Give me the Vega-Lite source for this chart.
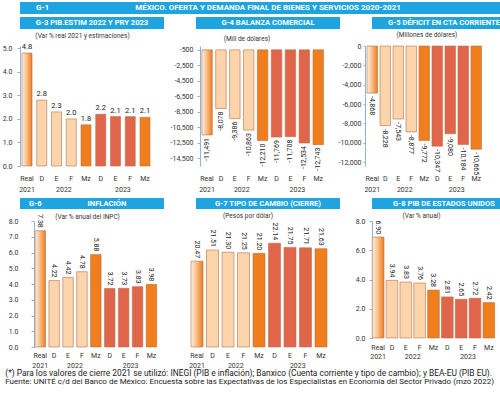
{
  "$schema": "https://vega.github.io/schema/vega-lite/v6.json",
  "background": "white",
  "padding": {"left": 2, "right": 2, "top": 2, "bottom": 2},
  "spacing": 3,
  "datasets": {
    "g3": [
      {"k": "Real", "v": 4.8, "t": "4.8"}, {"k": "D22", "v": 2.8, "t": "2.8"}, {"k": "E22", "v": 2.3, "t": "2.3"},
      {"k": "F22", "v": 2.0, "t": "2.0"}, {"k": "Mz22", "v": 1.75, "t": "1.8"}, {"k": "D23", "v": 2.2, "t": "2.2"},
      {"k": "E23", "v": 2.1, "t": "2.1"}, {"k": "F23", "v": 2.1, "t": "2.1"}, {"k": "Mz23", "v": 2.07, "t": "2.1"}
    ],
    "g4": [
      {"k": "Real", "v": -11491, "t": "-11,491"}, {"k": "D22", "v": -8078, "t": "-8,078"}, {"k": "E22", "v": -9386, "t": "-9,386"},
      {"k": "F22", "v": -10863, "t": "-10,863"}, {"k": "Mz22", "v": -12210, "t": "-12,210"}, {"k": "D23", "v": -11769, "t": "-11,769"},
      {"k": "E23", "v": -11708, "t": "-11,708"}, {"k": "F23", "v": -12534, "t": "-12,534"}, {"k": "Mz23", "v": -12743, "t": "-12,743"}
    ],
    "g5": [
      {"k": "Real", "v": -4868, "t": "-4,868"}, {"k": "D22", "v": -8228, "t": "-8,228"}, {"k": "E22", "v": -7543, "t": "-7,543"},
      {"k": "F22", "v": -8877, "t": "-8,877"}, {"k": "Mz22", "v": -9772, "t": "-9,772"}, {"k": "D23", "v": -10347, "t": "-10,347"},
      {"k": "E23", "v": -9080, "t": "-9,080"}, {"k": "F23", "v": -10184, "t": "-10,184"}, {"k": "Mz23", "v": -10665, "t": "-10,665"}
    ],
    "g6": [
      {"k": "Real", "v": 7.38, "t": "7.38"}, {"k": "D22", "v": 4.22, "t": "4.22"}, {"k": "E22", "v": 4.42, "t": "4.42"},
      {"k": "F22", "v": 4.78, "t": "4.78"}, {"k": "Mz22", "v": 5.88, "t": "5.88"}, {"k": "D23", "v": 3.72, "t": "3.72"},
      {"k": "E23", "v": 3.73, "t": "3.73"}, {"k": "F23", "v": 3.83, "t": "3.83"}, {"k": "Mz23", "v": 3.98, "t": "3.98"}
    ],
    "g7": [
      {"k": "Real", "v": 20.47, "t": "20.47"}, {"k": "D22", "v": 21.51, "t": "21.51"}, {"k": "E22", "v": 21.30, "t": "21.30"},
      {"k": "F22", "v": 21.25, "t": "21.25"}, {"k": "Mz22", "v": 21.20, "t": "21.20"}, {"k": "D23", "v": 22.14, "t": "22.14"},
      {"k": "E23", "v": 21.75, "t": "21.75"}, {"k": "F23", "v": 21.71, "t": "21.71"}, {"k": "Mz23", "v": 21.63, "t": "21.63"}
    ],
    "g8": [
      {"k": "Real", "v": 6.90, "t": "6.90"}, {"k": "D22", "v": 3.94, "t": "3.94"}, {"k": "E22", "v": 3.83, "t": "3.83"},
      {"k": "F22", "v": 3.76, "t": "3.76"}, {"k": "Mz22", "v": 3.28, "t": "3.28"}, {"k": "D23", "v": 2.81, "t": "2.81"},
      {"k": "E23", "v": 2.65, "t": "2.65"}, {"k": "F23", "v": 2.72, "t": "2.72"}, {"k": "Mz23", "v": 2.42, "t": "2.42"}
    ]
  },
  "title": {
    "text": "(*) Para los valores de cierre 2021 se utilizó: INEGI (PIB e inflación); Banxico (Cuenta corriente y tipo de cambio); y BEA-EU (PIB EU).",
    "subtitle": "Fuente: UNITÉ c/d del Banco de México: Encuesta sobre las Expectativas de los Especialistas en Economía del Sector Privado (mzo 2022)",
    "orient": "bottom", "anchor": "start", "fontSize": 8.4, "fontWeight": "normal", "color": "#222",
    "subtitleFontSize": 8, "subtitleColor": "#222", "subtitlePadding": 1, "offset": 1, "dx": 3
  },
  "vconcat": [
    {
      "width": 496, "height": 12,
      "view": {"fill": "#1ea4de", "stroke": null},
      "data": {"values": [{"c": "G-1", "t": "MÉXICO. OFERTA Y DEMANDA FINAL DE BIENES Y SERVICIOS 2020-2021"}]},
      "layer": [
        {"mark": {"type": "text", "color": "white", "fontWeight": "bold", "fontSize": 8, "baseline": "middle"}, "encoding": {"text": {"field": "t"}}},
        {"mark": {"type": "text", "color": "white", "fontWeight": "bold", "fontSize": 8, "baseline": "middle", "align": "left", "dx": -232}, "encoding": {"text": {"field": "c"}}}
      ]
    },
    {
      "width": 496, "height": 12,
      "data": {"values": [
        {"p": "G-3", "t": "G-3  PIB.ESTIM 2022 Y PRY 2023"},
        {"p": "G-4", "t": "G-4  BALANZA COMERCIAL"},
        {"p": "G-5", "t": "G-5  DÉFICIT EN CTA CORRIENTE"}
      ]},
      "encoding": {"x": {"field": "p", "type": "nominal", "sort": null, "axis": null, "scale": {"paddingInner": 0.182, "paddingOuter": 0}}},
      "layer": [
        {"mark": {"type": "rect", "color": "#1ea4de"}},
        {"mark": {"type": "text", "color": "white", "fontWeight": "bold", "fontSize": 7.6, "baseline": "middle"}, "encoding": {"text": {"field": "t"}}}
      ]
    },
    {
      "columns": 3, "align": "each", "bounds": "flush", "spacing": 41.5,
      "concat": [
        {
          "width": 131, "height": 120,
          "title": {"text": "(Var % real 2021 y estimaciones)", "offset": 3.4, "dx": -3},
          "data": {"name": "g3"},
          "layer": [
            {"mark": {"type": "bar", "stroke": "#b5724c", "strokeWidth": 0.6},
             "encoding": {
               "x": {"field": "k", "type": "nominal", "sort": null, "title": null, "scale": {"paddingInner": 0.32, "paddingOuter": 0.1017, "align": 0.667},
                     "axis": {"labelExpr": "datum.value == 'Real' ? 'Real' : slice(datum.value, 0, length(datum.value) - 2)", "labelPadding": 8.5}},
               "y": {"field": "v", "type": "quantitative", "title": null, "scale": {"domain": [0, 5.1], "nice": false},
                     "axis": {"values": [0, 1, 2, 3, 4, 5], "tickCount": 30, "format": ".1f", "labelPadding": 5}},
               "fill": {"condition": [
                 {"test": "datum.k == 'Real'", "value": {"gradient": "linear", "x1": 0, "y1": 0, "x2": 1, "y2": 0, "stops": [{"offset": 0, "color": "#fdf0e2"}, {"offset": 0.45, "color": "#f8c18c"}, {"offset": 1, "color": "#ee7d1c"}]}},
                 {"test": "indexof(datum.k, 'Mz') == 0", "value": "#f07e1c"},
                 {"test": "indexof(datum.k, '23') > 0", "value": "#e0654b"}], "value": "#fcd4ab"}
             }},
            {"mark": {"type": "text", "baseline": "bottom", "dy": -2, "fontSize": 7.5},
             "encoding": {
               "x": {"field": "k", "type": "nominal", "sort": null, "title": null,
                     "axis": {"orient": "bottom", "offset": 11, "labelPadding": 8.5, "minExtent": 18, "labelExpr": "datum.value == 'Real' ? '2021' : datum.value == 'E22' ? '2022' : datum.value == 'E23' ? '2023' : ''", "labelOffset": {"condition": {"test": "datum.value == 'Real'", "value": 0}, "value": 7.4}}},
               "y": {"field": "v", "type": "quantitative"},
               "text": {"field": "t"}
             }}
          ],
          "resolve": {"axis": {"x": "independent"}}
        },
        {
          "width": 131, "height": 120,
          "title": {"text": "(Mill de dólares)", "dx": -11, "offset": 3.8},
          "data": {"name": "g4"},
          "layer": [
            {"mark": {"type": "bar", "stroke": "#b5724c", "strokeWidth": 0.6},
             "encoding": {
               "x": {"field": "k", "type": "nominal", "sort": null, "title": null, "scale": {"paddingInner": 0.245, "paddingOuter": 0.3345, "align": 1},
                     "axis": {"labelExpr": "datum.value == 'Real' ? 'Real' : slice(datum.value, 0, length(datum.value) - 2)", "labelPadding": 8.5}},
               "y": {"field": "v", "type": "quantitative", "title": null, "scale": {"domain": [-15500, 0], "nice": false, "zero": false},
                     "axis": {"values": [-500, -2500, -4500, -6500, -8500, -10500, -12500, -14500], "tickCount": 30, "offset": -7.5, "labelExpr": "replace(format(datum.value, ','), '−', '-')", "labelPadding": 4}},
               "y2": {"datum": -500},
               "fill": {"condition": [
                 {"test": "datum.k == 'Real'", "value": {"gradient": "linear", "x1": 0, "y1": 0, "x2": 1, "y2": 0, "stops": [{"offset": 0, "color": "#fdf0e2"}, {"offset": 0.45, "color": "#f8c18c"}, {"offset": 1, "color": "#ee7d1c"}]}},
                 {"test": "indexof(datum.k, 'Mz') == 0", "value": "#f07e1c"},
                 {"test": "indexof(datum.k, '23') > 0", "value": "#e0654b"}], "value": "#fcd4ab"}
             }},
            {"mark": {"type": "text", "angle": 270, "align": "right", "baseline": "middle", "dx": -3, "fontSize": 7},
             "encoding": {
               "x": {"field": "k", "type": "nominal", "sort": null, "title": null,
                     "axis": {"orient": "bottom", "offset": 11, "labelPadding": 8.5, "minExtent": 18, "labelExpr": "datum.value == 'Real' ? '2021' : datum.value == 'E22' ? '2022' : datum.value == 'E23' ? '2023' : ''", "labelOffset": {"condition": {"test": "datum.value == 'Real'", "value": 0}, "value": 6.95}}},
               "y": {"field": "v", "type": "quantitative"},
               "text": {"field": "t"}
             }}
          ],
          "resolve": {"axis": {"x": "independent"}}
        },
        {
          "width": 131, "height": 120,
          "title": {"text": "(Millones de dólares)", "offset": 3.3, "dx": -3.5},
          "data": {"name": "g5"},
          "layer": [
            {"mark": {"type": "bar", "stroke": "#b5724c", "strokeWidth": 0.6},
             "encoding": {
               "x": {"field": "k", "type": "nominal", "sort": null, "title": null, "scale": {"paddingInner": 0.19, "paddingOuter": 0.635, "align": 0.121},
                     "axis": {"labelExpr": "datum.value == 'Real' ? 'Real' : slice(datum.value, 0, length(datum.value) - 2)", "labelPadding": 8.5}},
               "y": {"field": "v", "type": "quantitative", "title": null, "scale": {"domain": [-12400, 0], "nice": false},
                     "axis": {"values": [0, -2000, -4000, -6000, -8000, -10000, -12000], "tickCount": 30, "labelExpr": "replace(format(datum.value, ','), '−', '-')", "labelPadding": 2, "tickSize": 2}},
               "fill": {"condition": [
                 {"test": "datum.k == 'Real'", "value": {"gradient": "linear", "x1": 0, "y1": 0, "x2": 1, "y2": 0, "stops": [{"offset": 0, "color": "#fdf0e2"}, {"offset": 0.45, "color": "#f8c18c"}, {"offset": 1, "color": "#ee7d1c"}]}},
                 {"test": "indexof(datum.k, 'Mz') == 0", "value": "#f07e1c"},
                 {"test": "indexof(datum.k, '23') > 0", "value": "#e0654b"}], "value": "#fcd4ab"}
             }},
            {"mark": {"type": "text", "angle": 90, "align": "left", "baseline": "middle", "dx": 3, "fontSize": 7},
             "encoding": {
               "x": {"field": "k", "type": "nominal", "sort": null, "title": null,
                     "axis": {"orient": "bottom", "offset": 11, "labelPadding": 8.5, "minExtent": 18, "labelExpr": "datum.value == 'Real' ? '2021' : datum.value == 'E22' ? '2022' : datum.value == 'E23' ? '2023' : ''", "labelOffset": {"condition": {"test": "datum.value == 'Real'", "value": 0}, "value": 6.5}}},
               "y": {"field": "v", "type": "quantitative"},
               "text": {"field": "t"}
             }}
          ],
          "resolve": {"axis": {"x": "independent"}}
        }
      ]
    },
    {
      "width": 496, "height": 11,
      "data": {"values": [
        {"p": "G-6", "c": "G-6", "t": "INFLACIÓN"},
        {"p": "G-7", "c": "", "t": "G-7  TIPO DE CAMBIO (CIERRE)"},
        {"p": "G-8", "c": "", "t": "G-8  PIB DE ESTADOS UNIDOS"}
      ]},
      "encoding": {"x": {"field": "p", "type": "nominal", "sort": null, "axis": null, "scale": {"paddingInner": 0.182, "paddingOuter": 0}}},
      "layer": [
        {"mark": {"type": "rect", "color": "#1ea4de"}},
        {"transform": [{"filter": "datum.p != 'G-6'"}],
         "mark": {"type": "text", "color": "white", "fontWeight": "bold", "fontSize": 7.6, "baseline": "middle"}, "encoding": {"text": {"field": "t"}}},
        {"transform": [{"filter": "datum.p == 'G-6'"}],
         "mark": {"type": "text", "color": "white", "fontWeight": "bold", "fontSize": 7.6, "baseline": "middle", "dx": 15}, "encoding": {"text": {"field": "t"}}},
        {"mark": {"type": "text", "color": "white", "fontWeight": "bold", "fontSize": 7.6, "baseline": "middle", "align": "left", "dx": 9},
         "encoding": {"x": {"field": "p", "type": "nominal", "sort": null, "bandPosition": 0}, "text": {"field": "c"}}}
      ]
    },
    {
      "columns": 3, "align": "each", "bounds": "flush", "spacing": 30,
      "concat": [
        {
          "width": 139, "height": 126,
          "title": {"text": "(Var % anual del INPC)", "offset": -6.2, "dx": -2},
          "data": {"name": "g6"},
          "layer": [
            {"mark": {"type": "bar", "stroke": "#b5724c", "strokeWidth": 0.6},
             "encoding": {
               "x": {"field": "k", "type": "nominal", "sort": null, "title": null, "scale": {"paddingInner": 0.245, "paddingOuter": 0.622, "align": 0.867},
                     "axis": {"labelExpr": "datum.value == 'Real' ? 'Real' : slice(datum.value, 0, length(datum.value) - 2)", "labelPadding": 4}},
               "y": {"field": "v", "type": "quantitative", "title": null, "scale": {"domain": [0, 8], "nice": false},
                     "axis": {"values": [0, 1, 2, 3, 4, 5, 6, 7, 8], "tickCount": 30, "offset": -14, "format": ".1f", "labelPadding": 13}},
               "fill": {"condition": [
                 {"test": "datum.k == 'Real'", "value": {"gradient": "linear", "x1": 0, "y1": 0, "x2": 1, "y2": 0, "stops": [{"offset": 0, "color": "#fdf0e2"}, {"offset": 0.45, "color": "#f8c18c"}, {"offset": 1, "color": "#ee7d1c"}]}},
                 {"test": "indexof(datum.k, 'Mz') == 0", "value": "#f07e1c"},
                 {"test": "indexof(datum.k, '23') > 0", "value": "#e0654b"}], "value": "#fcd4ab"}
             }},
            {"mark": {"type": "text", "angle": 90, "align": "right", "baseline": "middle", "dx": -3, "fontSize": 7},
             "encoding": {
               "x": {"field": "k", "type": "nominal", "sort": null, "title": null,
                     "axis": {"orient": "bottom", "offset": 10, "labelPadding": 4, "labelExpr": "datum.value == 'Real' ? '2021' : datum.value == 'E22' ? '2022' : datum.value == 'E23' ? '2023' : ''", "labelOffset": {"condition": {"test": "datum.value == 'Real'", "value": 0}, "value": 6.95}}},
               "y": {"field": "v", "type": "quantitative"},
               "text": {"field": "t"}
             }}
          ],
          "resolve": {"axis": {"x": "independent"}}
        },
        {
          "width": 139, "height": 126,
          "title": {"text": "(Pesos por dólar)", "dx": -10.5, "offset": 1.5},
          "data": {"name": "g7"},
          "layer": [
            {"mark": {"type": "bar", "stroke": "#b5724c", "strokeWidth": 0.6},
             "encoding": {
               "x": {"field": "k", "type": "nominal", "sort": null, "title": null, "scale": {"paddingInner": 0.226, "paddingOuter": 0.0968, "align": 0.667},
                     "axis": {"labelExpr": "datum.value == 'Real' ? 'Real' : slice(datum.value, 0, length(datum.value) - 2)", "labelPadding": 4}},
               "y": {"field": "v", "type": "quantitative", "title": null, "scale": {"domain": [12.5, 24.2], "nice": false, "zero": false}, "axis": null},
               "y2": {"datum": 12.5},
               "fill": {"condition": [
                 {"test": "datum.k == 'Real'", "value": {"gradient": "linear", "x1": 0, "y1": 0, "x2": 1, "y2": 0, "stops": [{"offset": 0, "color": "#fdf0e2"}, {"offset": 0.45, "color": "#f8c18c"}, {"offset": 1, "color": "#ee7d1c"}]}},
                 {"test": "indexof(datum.k, 'Mz') == 0", "value": "#f07e1c"},
                 {"test": "indexof(datum.k, '23') > 0", "value": "#e0654b"}], "value": "#fcd4ab"}
             }},
            {"mark": {"type": "text", "angle": 90, "align": "right", "baseline": "middle", "dx": -3, "fontSize": 7},
             "encoding": {
               "x": {"field": "k", "type": "nominal", "sort": null, "title": null,
                     "axis": {"orient": "bottom", "offset": 10, "labelPadding": 4, "labelExpr": "datum.value == 'Real' ? '2021' : datum.value == 'E22' ? '2022' : datum.value == 'E23' ? '2023' : ''", "labelOffset": {"condition": {"test": "datum.value == 'Real'", "value": 0}, "value": 7.75}}},
               "y": {"field": "v", "type": "quantitative"},
               "text": {"field": "t"}
             }}
          ],
          "resolve": {"axis": {"x": "independent"}}
        },
        {
          "width": 139, "height": 117,
          "title": {"text": "(Var % anual)", "offset": -2, "dx": -6},
          "data": {"name": "g8"},
          "layer": [
            {"mark": {"type": "bar", "stroke": "#b5724c", "strokeWidth": 0.6},
             "encoding": {
               "x": {"field": "k", "type": "nominal", "sort": null, "title": null, "scale": {"paddingInner": 0.155, "paddingOuter": 0.6, "align": 0.86},
                     "axis": {"labelExpr": "datum.value == 'Real' ? 'Real' : slice(datum.value, 0, length(datum.value) - 2)", "labelPadding": 5}},
               "y": {"field": "v", "type": "quantitative", "title": null, "scale": {"domain": [0, 8], "nice": false},
                     "axis": {"values": [0, 2, 4, 6, 8], "tickCount": 30, "offset": -14, "format": ".1f", "labelPadding": 4}},
               "fill": {"condition": [
                 {"test": "datum.k == 'Real'", "value": {"gradient": "linear", "x1": 0, "y1": 0, "x2": 1, "y2": 0, "stops": [{"offset": 0, "color": "#fdf0e2"}, {"offset": 0.45, "color": "#f8c18c"}, {"offset": 1, "color": "#ee7d1c"}]}},
                 {"test": "indexof(datum.k, 'Mz') == 0", "value": "#f07e1c"},
                 {"test": "indexof(datum.k, '23') > 0", "value": "#e0654b"}], "value": "#fcd4ab"}
             }},
            {"mark": {"type": "text", "angle": 90, "align": "right", "baseline": "middle", "dx": -3, "fontSize": 7},
             "encoding": {
               "x": {"field": "k", "type": "nominal", "sort": null, "title": null,
                     "axis": {"orient": "bottom", "offset": 9, "labelPadding": 5, "labelExpr": "datum.value == 'Real' ? '2021' : datum.value == 'E22' ? '2022' : datum.value == 'E23' ? '2023' : ''", "labelOffset": {"condition": {"test": "datum.value == 'Real'", "value": 0}, "value": 6.9}}},
               "y": {"field": "v", "type": "quantitative"},
               "text": {"field": "t"}
             }}
          ],
          "resolve": {"axis": {"x": "independent"}}
        }
      ]
    }
  ],
  "config": {
    "font": "Roboto, sans-serif",
    "view": {"stroke": null},
    "axis": {"grid": false, "labelColor": "#333", "labelFontSize": 7, "domainColor": "#8fb6d8", "tickColor": "#8fb6d8"},
    "axisX": {"domain": false, "ticks": false, "labelAngle": 0, "labelOverlap": false, "labelFontSize": 7},
    "axisY": {"tickSize": 3, "labelOverlap": false},
    "title": {"fontSize": 6.5, "fontWeight": "normal", "color": "#333", "offset": 2},
    "text": {"fontSize": 7, "color": "#222"}
  }
}
